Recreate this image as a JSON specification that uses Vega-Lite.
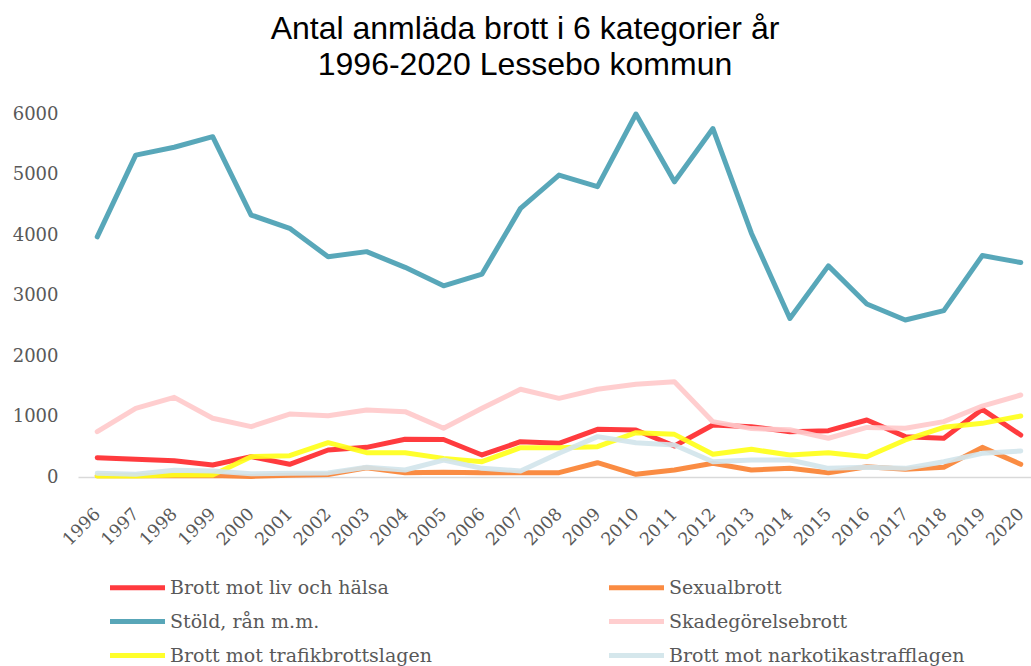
{
  "$schema": "https://vega.github.io/schema/vega-lite/v6.json",
  "autosize": {"type": "none"},
  "width": 962,
  "height": 363,
  "padding": {"left": 78, "top": 114, "right": 0, "bottom": 189},
  "background": "white",
  "title": {
    "text": ["Antal anmläda brott i 6 kategorier år", "1996-2020 Lessebo kommun"],
    "font": "Liberation Sans",
    "fontSize": 32,
    "fontWeight": "normal",
    "color": "#000000",
    "anchor": "middle",
    "frame": "group",
    "dx": -34,
    "offset": 23,
    "lineHeight": 36
  },
  "config": {
    "view": {"stroke": null},
    "font": "DejaVu Serif"
  },
  "datasets": {
    "crimes": [
      {"year": "1996", "cat": "Brott mot liv och hälsa", "value": 320},
      {"year": "1997", "cat": "Brott mot liv och hälsa", "value": 292},
      {"year": "1998", "cat": "Brott mot liv och hälsa", "value": 270},
      {"year": "1999", "cat": "Brott mot liv och hälsa", "value": 198},
      {"year": "2000", "cat": "Brott mot liv och hälsa", "value": 336},
      {"year": "2001", "cat": "Brott mot liv och hälsa", "value": 210},
      {"year": "2002", "cat": "Brott mot liv och hälsa", "value": 446},
      {"year": "2003", "cat": "Brott mot liv och hälsa", "value": 490},
      {"year": "2004", "cat": "Brott mot liv och hälsa", "value": 623},
      {"year": "2005", "cat": "Brott mot liv och hälsa", "value": 620},
      {"year": "2006", "cat": "Brott mot liv och hälsa", "value": 364},
      {"year": "2007", "cat": "Brott mot liv och hälsa", "value": 584},
      {"year": "2008", "cat": "Brott mot liv och hälsa", "value": 557},
      {"year": "2009", "cat": "Brott mot liv och hälsa", "value": 788},
      {"year": "2010", "cat": "Brott mot liv och hälsa", "value": 777},
      {"year": "2011", "cat": "Brott mot liv och hälsa", "value": 512},
      {"year": "2012", "cat": "Brott mot liv och hälsa", "value": 860},
      {"year": "2013", "cat": "Brott mot liv och hälsa", "value": 832},
      {"year": "2014", "cat": "Brott mot liv och hälsa", "value": 749},
      {"year": "2015", "cat": "Brott mot liv och hälsa", "value": 766},
      {"year": "2016", "cat": "Brott mot liv och hälsa", "value": 942},
      {"year": "2017", "cat": "Brott mot liv och hälsa", "value": 667},
      {"year": "2018", "cat": "Brott mot liv och hälsa", "value": 639},
      {"year": "2019", "cat": "Brott mot liv och hälsa", "value": 1118},
      {"year": "2020", "cat": "Brott mot liv och hälsa", "value": 694},

      {"year": "1996", "cat": "Sexualbrott", "value": 20},
      {"year": "1997", "cat": "Sexualbrott", "value": 20},
      {"year": "1998", "cat": "Sexualbrott", "value": 22},
      {"year": "1999", "cat": "Sexualbrott", "value": 25},
      {"year": "2000", "cat": "Sexualbrott", "value": 10},
      {"year": "2001", "cat": "Sexualbrott", "value": 30},
      {"year": "2002", "cat": "Sexualbrott", "value": 40},
      {"year": "2003", "cat": "Sexualbrott", "value": 154},
      {"year": "2004", "cat": "Sexualbrott", "value": 71},
      {"year": "2005", "cat": "Sexualbrott", "value": 80},
      {"year": "2006", "cat": "Sexualbrott", "value": 71},
      {"year": "2007", "cat": "Sexualbrott", "value": 71},
      {"year": "2008", "cat": "Sexualbrott", "value": 71},
      {"year": "2009", "cat": "Sexualbrott", "value": 236},
      {"year": "2010", "cat": "Sexualbrott", "value": 44},
      {"year": "2011", "cat": "Sexualbrott", "value": 115},
      {"year": "2012", "cat": "Sexualbrott", "value": 226},
      {"year": "2013", "cat": "Sexualbrott", "value": 115},
      {"year": "2014", "cat": "Sexualbrott", "value": 143},
      {"year": "2015", "cat": "Sexualbrott", "value": 71},
      {"year": "2016", "cat": "Sexualbrott", "value": 170},
      {"year": "2017", "cat": "Sexualbrott", "value": 127},
      {"year": "2018", "cat": "Sexualbrott", "value": 160},
      {"year": "2019", "cat": "Sexualbrott", "value": 490},
      {"year": "2020", "cat": "Sexualbrott", "value": 210},

      {"year": "1996", "cat": "Stöld, rån m.m.", "value": 3970},
      {"year": "1997", "cat": "Stöld, rån m.m.", "value": 5320},
      {"year": "1998", "cat": "Stöld, rån m.m.", "value": 5450},
      {"year": "1999", "cat": "Stöld, rån m.m.", "value": 5625},
      {"year": "2000", "cat": "Stöld, rån m.m.", "value": 4330},
      {"year": "2001", "cat": "Stöld, rån m.m.", "value": 4110},
      {"year": "2002", "cat": "Stöld, rån m.m.", "value": 3640},
      {"year": "2003", "cat": "Stöld, rån m.m.", "value": 3725},
      {"year": "2004", "cat": "Stöld, rån m.m.", "value": 3465},
      {"year": "2005", "cat": "Stöld, rån m.m.", "value": 3160},
      {"year": "2006", "cat": "Stöld, rån m.m.", "value": 3355},
      {"year": "2007", "cat": "Stöld, rån m.m.", "value": 4440},
      {"year": "2008", "cat": "Stöld, rån m.m.", "value": 4990},
      {"year": "2009", "cat": "Stöld, rån m.m.", "value": 4800},
      {"year": "2010", "cat": "Stöld, rån m.m.", "value": 6000},
      {"year": "2011", "cat": "Stöld, rån m.m.", "value": 4880},
      {"year": "2012", "cat": "Stöld, rån m.m.", "value": 5760},
      {"year": "2013", "cat": "Stöld, rån m.m.", "value": 4030},
      {"year": "2014", "cat": "Stöld, rån m.m.", "value": 2620},
      {"year": "2015", "cat": "Stöld, rån m.m.", "value": 3490},
      {"year": "2016", "cat": "Stöld, rån m.m.", "value": 2860},
      {"year": "2017", "cat": "Stöld, rån m.m.", "value": 2595},
      {"year": "2018", "cat": "Stöld, rån m.m.", "value": 2750},
      {"year": "2019", "cat": "Stöld, rån m.m.", "value": 3660},
      {"year": "2020", "cat": "Stöld, rån m.m.", "value": 3545},

      {"year": "1996", "cat": "Skadegörelsebrott", "value": 750},
      {"year": "1997", "cat": "Skadegörelsebrott", "value": 1135},
      {"year": "1998", "cat": "Skadegörelsebrott", "value": 1317},
      {"year": "1999", "cat": "Skadegörelsebrott", "value": 970},
      {"year": "2000", "cat": "Skadegörelsebrott", "value": 832},
      {"year": "2001", "cat": "Skadegörelsebrott", "value": 1041},
      {"year": "2002", "cat": "Skadegörelsebrott", "value": 1014},
      {"year": "2003", "cat": "Skadegörelsebrott", "value": 1107},
      {"year": "2004", "cat": "Skadegörelsebrott", "value": 1080},
      {"year": "2005", "cat": "Skadegörelsebrott", "value": 805},
      {"year": "2006", "cat": "Skadegörelsebrott", "value": 1135},
      {"year": "2007", "cat": "Skadegörelsebrott", "value": 1450},
      {"year": "2008", "cat": "Skadegörelsebrott", "value": 1300},
      {"year": "2009", "cat": "Skadegörelsebrott", "value": 1450},
      {"year": "2010", "cat": "Skadegörelsebrott", "value": 1532},
      {"year": "2011", "cat": "Skadegörelsebrott", "value": 1575},
      {"year": "2012", "cat": "Skadegörelsebrott", "value": 915},
      {"year": "2013", "cat": "Skadegörelsebrott", "value": 800},
      {"year": "2014", "cat": "Skadegörelsebrott", "value": 780},
      {"year": "2015", "cat": "Skadegörelsebrott", "value": 640},
      {"year": "2016", "cat": "Skadegörelsebrott", "value": 820},
      {"year": "2017", "cat": "Skadegörelsebrott", "value": 805},
      {"year": "2018", "cat": "Skadegörelsebrott", "value": 915},
      {"year": "2019", "cat": "Skadegörelsebrott", "value": 1173},
      {"year": "2020", "cat": "Skadegörelsebrott", "value": 1355},

      {"year": "1996", "cat": "Brott mot trafikbrottslagen", "value": 17},
      {"year": "1997", "cat": "Brott mot trafikbrottslagen", "value": 17},
      {"year": "1998", "cat": "Brott mot trafikbrottslagen", "value": 33},
      {"year": "1999", "cat": "Brott mot trafikbrottslagen", "value": 33},
      {"year": "2000", "cat": "Brott mot trafikbrottslagen", "value": 336},
      {"year": "2001", "cat": "Brott mot trafikbrottslagen", "value": 352},
      {"year": "2002", "cat": "Brott mot trafikbrottslagen", "value": 567},
      {"year": "2003", "cat": "Brott mot trafikbrottslagen", "value": 402},
      {"year": "2004", "cat": "Brott mot trafikbrottslagen", "value": 402},
      {"year": "2005", "cat": "Brott mot trafikbrottslagen", "value": 308},
      {"year": "2006", "cat": "Brott mot trafikbrottslagen", "value": 253},
      {"year": "2007", "cat": "Brott mot trafikbrottslagen", "value": 485},
      {"year": "2008", "cat": "Brott mot trafikbrottslagen", "value": 485},
      {"year": "2009", "cat": "Brott mot trafikbrottslagen", "value": 501},
      {"year": "2010", "cat": "Brott mot trafikbrottslagen", "value": 733},
      {"year": "2011", "cat": "Brott mot trafikbrottslagen", "value": 705},
      {"year": "2012", "cat": "Brott mot trafikbrottslagen", "value": 375},
      {"year": "2013", "cat": "Brott mot trafikbrottslagen", "value": 458},
      {"year": "2014", "cat": "Brott mot trafikbrottslagen", "value": 364},
      {"year": "2015", "cat": "Brott mot trafikbrottslagen", "value": 402},
      {"year": "2016", "cat": "Brott mot trafikbrottslagen", "value": 336},
      {"year": "2017", "cat": "Brott mot trafikbrottslagen", "value": 612},
      {"year": "2018", "cat": "Brott mot trafikbrottslagen", "value": 821},
      {"year": "2019", "cat": "Brott mot trafikbrottslagen", "value": 887},
      {"year": "2020", "cat": "Brott mot trafikbrottslagen", "value": 1008},

      {"year": "1996", "cat": "Brott mot narkotikastrafflagen", "value": 60},
      {"year": "1997", "cat": "Brott mot narkotikastrafflagen", "value": 44},
      {"year": "1998", "cat": "Brott mot narkotikastrafflagen", "value": 110},
      {"year": "1999", "cat": "Brott mot narkotikastrafflagen", "value": 100},
      {"year": "2000", "cat": "Brott mot narkotikastrafflagen", "value": 55},
      {"year": "2001", "cat": "Brott mot narkotikastrafflagen", "value": 60},
      {"year": "2002", "cat": "Brott mot narkotikastrafflagen", "value": 68},
      {"year": "2003", "cat": "Brott mot narkotikastrafflagen", "value": 160},
      {"year": "2004", "cat": "Brott mot narkotikastrafflagen", "value": 115},
      {"year": "2005", "cat": "Brott mot narkotikastrafflagen", "value": 280},
      {"year": "2006", "cat": "Brott mot narkotikastrafflagen", "value": 143},
      {"year": "2007", "cat": "Brott mot narkotikastrafflagen", "value": 100},
      {"year": "2008", "cat": "Brott mot narkotikastrafflagen", "value": 391},
      {"year": "2009", "cat": "Brott mot narkotikastrafflagen", "value": 667},
      {"year": "2010", "cat": "Brott mot narkotikastrafflagen", "value": 567},
      {"year": "2011", "cat": "Brott mot narkotikastrafflagen", "value": 529},
      {"year": "2012", "cat": "Brott mot narkotikastrafflagen", "value": 253},
      {"year": "2013", "cat": "Brott mot narkotikastrafflagen", "value": 281},
      {"year": "2014", "cat": "Brott mot narkotikastrafflagen", "value": 281},
      {"year": "2015", "cat": "Brott mot narkotikastrafflagen", "value": 143},
      {"year": "2016", "cat": "Brott mot narkotikastrafflagen", "value": 160},
      {"year": "2017", "cat": "Brott mot narkotikastrafflagen", "value": 143},
      {"year": "2018", "cat": "Brott mot narkotikastrafflagen", "value": 253},
      {"year": "2019", "cat": "Brott mot narkotikastrafflagen", "value": 391},
      {"year": "2020", "cat": "Brott mot narkotikastrafflagen", "value": 430}
    ]
  },
  "data": {"name": "crimes"},
  "mark": {"type": "line", "strokeWidth": 5, "opacity": 0.92, "strokeCap": "round", "strokeJoin": "round"},
  "encoding": {
    "x": {
      "field": "year",
      "type": "ordinal",
      "title": null,
      "scale": {"type": "point", "padding": 0.5},
      "axis": {
        "labelAngle": -45,
        "labelAlign": "right",
        "labelBaseline": "middle",
        "labelFont": "DejaVu Serif",
        "labelFontSize": 17.5,
        "labelColor": "#595959",
        "ticks": false,
        "labelPadding": 34,
        "labelOverlap": false,
        "domainColor": "#d9d9d9",
        "domainWidth": 1.5,
        "grid": false
      }
    },
    "y": {
      "field": "value",
      "type": "quantitative",
      "title": null,
      "scale": {"domain": [0, 6000], "nice": false},
      "axis": {
        "values": [0, 1000, 2000, 3000, 4000, 5000, 6000],
        "format": "d",
        "labelFont": "DejaVu Serif",
        "labelFontSize": 18,
        "labelColor": "#595959",
        "ticks": false,
        "domain": false,
        "grid": false,
        "labelPadding": 20
      }
    },
    "color": {
      "field": "cat",
      "type": "nominal",
      "scale": {
        "domain": ["Brott mot liv och hälsa", "Sexualbrott", "Stöld, rån m.m.", "Skadegörelsebrott", "Brott mot trafikbrottslagen", "Brott mot narkotikastrafflagen"],
        "range": ["#FF2A2E", "#FA8233", "#4A9FB3", "#FFCACB", "#FFFF1A", "#D2E5EB"]
      },
      "legend": {
        "title": null,
        "orient": "none",
        "legendX": 46,
        "legendY": 460,
        "direction": "horizontal",
        "columns": 2,
        "symbolType": "M-2.5,0H2.5",
        "symbolStrokeWidth": 5,
        "symbolSize": 484,
        "symbolOpacity": 0.92,
        "labelFont": "DejaVu Serif",
        "labelFontSize": 19,
        "labelColor": "#595959",
        "labelOffset": 19,
        "rowPadding": 10,
        "columnPadding": 167,
        "labelLimit": 400
      }
    },
    "order": {"field": "year"}
  }
}
